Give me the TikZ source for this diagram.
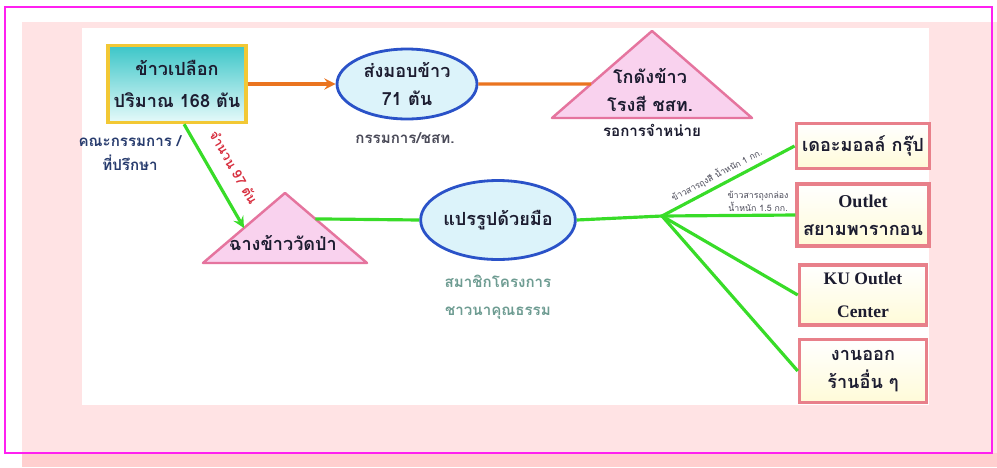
\documentclass[tikz,border=0pt]{standalone}
\usepackage{fontspec}
\setmainfont{Liberation Serif}
\newfontfamily\thaifont[Script=Thai]{Loma}
\usetikzlibrary{shapes.geometric, calc}

\definecolor{frame}{HTML}{FF20F0}
\definecolor{blush}{HTML}{FFE3E4}
\definecolor{blushdark}{HTML}{FFCFCF}
\definecolor{gold}{HTML}{F2C835}
\definecolor{teal}{HTML}{3CC6C8}
\definecolor{ice}{HTML}{E6FAFA}
\definecolor{royal}{HTML}{2A52C8}
\definecolor{skyfill}{HTML}{DCF3FA}
\definecolor{rose}{HTML}{E5749E}
\definecolor{rosefill}{HTML}{F9D2EE}
\definecolor{tangerine}{HTML}{EA7420}
\definecolor{lime}{HTML}{38DC28}
\definecolor{brick}{HTML}{E8808A}
\definecolor{cream}{HTML}{FFFBD8}
\definecolor{ink}{HTML}{1C1C30}
\definecolor{navy}{HTML}{283C6E}
\definecolor{slate}{HTML}{4A4A58}
\definecolor{sage}{HTML}{6E9C92}
\definecolor{crimson}{HTML}{D83040}

\begin{document}
\begin{tikzpicture}[x=0.02cm, y=-0.02cm, >=stealth,
    thai/.style={font=\thaifont\bfseries\fontsize{10.3}{16}\selectfont, align=center, text=ink},
    latin/.style={font=\rmfamily\bfseries\fontsize{10}{16}\selectfont, align=center, text=ink},
    stock/.style={draw=gold, line width=2pt, top color=teal, bottom color=ice, minimum width=2.74cm, minimum height=1.54cm},
    oval/.style={ellipse, draw=royal, line width=1.6pt, fill=skyfill, inner sep=0pt},
    heap/.style={draw=rose, line width=1.4pt, fill=rosefill, line join=round},
    shop/.style={draw=brick, line width=2pt, top color=white, bottom color=cream, minimum width=2.54cm},
    haul/.style={draw=tangerine, line width=1.8pt},
    feed/.style={draw=lime, line width=1.8pt},
    note/.style={font=\thaifont\bfseries\fontsize{8.6}{14}\selectfont, align=center},
    tag/.style={font=\thaifont\fontsize{5}{6.5}\selectfont, text=slate, align=center, inner sep=1pt}
]
    % BACKGROUND
    \useasboundingbox (0, 0) rectangle (997, 467);
    \fill[blush] (22, 22) rectangle (997, 467);
    \fill[blushdark] (22, 453) rectangle (997, 467);
    \fill[white] (82, 28) rectangle (929, 405);
    \draw[frame, line width=1.2pt] (5, 7) rectangle (992, 453);

    % BLOCKS
    \node (paddy) at (177, 84) [stock, thai] {ข้าวเปลือก\\[2pt]ปริมาณ 168 ตัน};
    \node (board) at (130, 153) [note, text=navy] {คณะกรรมการ /\\ที่ปรึกษา};

    \node (deliver) at (407, 84) [oval, minimum width=2.8cm, minimum height=1.4cm, thai] {ส่งมอบข้าว\\71 ตัน};
    \node (committee) at (405, 138) [note, text=slate] {กรรมการ/ชสท.};

    \coordinate (siloL) at (552, 118);
    \coordinate (siloR) at (752, 118);
    \coordinate (siloTop) at (652, 31);
    \path[heap] (siloL) -- (siloTop) -- (siloR) -- cycle;
    \node (silo) at (650, 90) [thai] {โกดังข้าว\\โรงสี ชสท.};
    \node (wait) at (652, 130) [note, text=ink] {รอการจำหน่าย};

    \coordinate (barnL) at (203, 263);
    \coordinate (barnR) at (367, 263);
    \coordinate (barnTop) at (285, 193);
    \path[heap] (barnL) -- (barnTop) -- (barnR) -- cycle;
    \node (barn) at (283, 243) [thai] {ฉางข้าววัดป่า};

    \node (handmade) at (498, 220) [oval, minimum width=3.06cm, minimum height=1.58cm, thai] {แปรรูปด้วยมือ};
    \node (members) at (498, 297) [note, text=sage] {สมาชิกโครงการ\\[2pt]ชาวนาคุณธรรม};

    \coordinate (hub) at (662, 216);

    \node (mall) at (863, 146) [shop, minimum height=0.9cm, thai] {เดอะมอลล์ กรุ๊ป};
    \node (paragon) at (863, 215) [shop, minimum height=1.24cm, thai] {{\rmfamily Outlet}\\สยามพารากอน};
    \node (ku) at (863, 295) [shop, minimum height=1.2cm, latin] {KU Outlet\\[3pt]Center};
    \node (other) at (863, 371) [shop, minimum height=1.26cm, thai] {งานออก\\ร้านอื่น ๆ};

    % CONNEXIONS
    \draw[haul, ->] (paddy.east) -- (deliver.west);
    \draw[haul] (deliver.east) -- ($(siloL)!0.39!(siloTop)$);

    \draw[feed, ->] (paddy.280) -- node[pos=0.52, sloped, above=5pt, note, text=crimson, font=\thaifont\bfseries\fontsize{7.5}{9}\selectfont] {จำนวน 97 ตัน} ($(barnL)!0.5!(barnTop)$);
    \draw[feed] ($(barnR)!0.63!(barnTop)$) -- (handmade.west);
    \draw[feed] (handmade.east) -- (hub);

    % Shops
    \draw[feed] (hub) -- node[pos=0.45, above=1pt, sloped, tag] {ข้าวสารถุงสี น้ำหนัก 1 กก.} (mall.west);
    \draw[feed] (hub) -- node[pos=0.72, above, tag] {ข้าวสารถุงกล่อง\\น้ำหนัก 1.5 กก.} (paragon.west);
    \draw[feed] (hub) -- (ku.west);
    \draw[feed] (hub) -- (other.west);
\end{tikzpicture}
\end{document}
